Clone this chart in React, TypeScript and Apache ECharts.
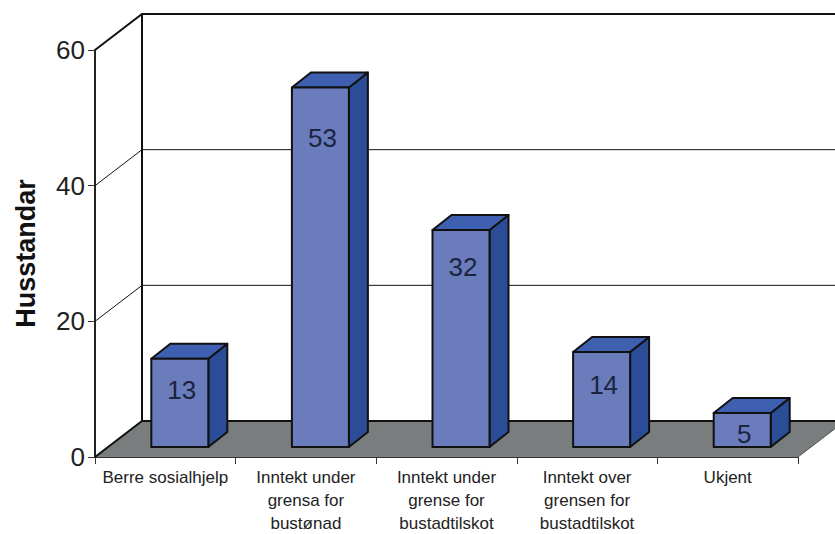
import React, { useEffect, useRef } from "react";
import * as echarts from "echarts";

const categories = [
  "Berre sosialhjelp",
  "Inntekt under\ngrensa for\nbustønad",
  "Inntekt under\ngrense for\nbustadtilskot",
  "Inntekt over\ngrensen for\nbustadtilskot",
  "Ukjent",
];
const households = [13, 53, 32, 14, 5];
const yTicks = [0, 20, 40, 60];
const axisTitle = "Husstandar";

const WIDTH = 835;
const HEIGHT = 534;
const DEPTH_X = 47;
const DEPTH_Y = 36;
const BAR_SHIFT_X = 14.5;
const BAR_SHIFT_Y = 10;
const BAR_WIDTH = 57;
const SIDE_X = 19;
const SIDE_Y = 15;
const LABEL_DROP = [31, 51, 37, 33, 21];
const INK = "#111";

function renderFrame(params: any, api: any) {
  const cs = params.coordSys;
  const x0 = cs.x;
  const x1 = cs.x + cs.width;
  const yBase = api.coord([0, 0])[1];
  const children: any[] = [
    {
      type: "polygon",
      shape: {
        points: [
          [x0, yBase],
          [x0 + DEPTH_X, yBase - DEPTH_Y],
          [x1 + DEPTH_X, yBase - DEPTH_Y],
          [x1, yBase],
        ],
      },
      style: { fill: "#7a7d7d", stroke: "none" },
    },
  ];
  yTicks.forEach((t) => {
    const y = api.coord([0, t])[1];
    const lw = t === 60 ? 2 : t === 0 ? 2 : 1;
    children.push({
      type: "polyline",
      shape: {
        points: [
          [x0, y],
          [x0 + DEPTH_X, y - DEPTH_Y],
          [x1 + DEPTH_X, y - DEPTH_Y],
        ],
      },
      style: { fill: "none", stroke: INK, lineWidth: lw },
    });
  });
  children.push({
    type: "line",
    shape: {
      x1: x0 + DEPTH_X,
      y1: api.coord([0, 60])[1] - DEPTH_Y,
      x2: x0 + DEPTH_X,
      y2: yBase - DEPTH_Y,
    },
    style: { stroke: INK, lineWidth: 2 },
  });
  children.push({
    type: "line",
    shape: { x1, y1: yBase, x2: x1 + DEPTH_X, y2: yBase - DEPTH_Y },
    style: { stroke: "#555", lineWidth: 1 },
  });
  return { type: "group", children };
}

function renderBar(_params: any, api: any) {
  const idx = api.value(0);
  const val = api.value(1);
  const centre = api.coord([idx, val])[0];
  const top = api.coord([idx, val])[1] - BAR_SHIFT_Y;
  const bottom = api.coord([idx, 0])[1] - BAR_SHIFT_Y;
  const l = centre + BAR_SHIFT_X - BAR_WIDTH / 2;
  const r = l + BAR_WIDTH;
  const edge = { stroke: INK, lineWidth: 2, lineJoin: "round" };
  return {
    type: "group",
    children: [
      {
        type: "polygon",
        shape: {
          points: [
            [r, top],
            [r + SIDE_X, top - SIDE_Y],
            [r + SIDE_X, bottom - SIDE_Y],
            [r, bottom],
          ],
        },
        style: { fill: "#2b4c96", ...edge },
      },
      {
        type: "polygon",
        shape: {
          points: [
            [l, top],
            [l + SIDE_X, top - SIDE_Y],
            [r + SIDE_X, top - SIDE_Y],
            [r, top],
          ],
        },
        style: { fill: "#3f60b0", ...edge },
      },
      {
        type: "rect",
        shape: { x: l, y: top, width: BAR_WIDTH, height: bottom - top },
        style: { fill: "#6a7cbc", ...edge },
      },
      {
        type: "text",
        style: {
          text: String(val),
          x: centre + BAR_SHIFT_X + 2,
          y: top + LABEL_DROP[idx],
          align: "center",
          verticalAlign: "middle",
          fontFamily: "Liberation Sans",
          fontSize: 26,
          fill: "#1b2440",
        },
      },
    ],
  };
}

export default function App() {
  const ref = useRef<HTMLDivElement>(null);
  useEffect(() => {
    const chart = echarts.init(ref.current!, null, { renderer: "svg" });
    chart.setOption({
      animation: false,
      backgroundColor: "#fff",
      tooltip: { show: false },
      grid: { left: 95, right: 37, top: 50, bottom: 77, outerBoundsMode: "none" },
      xAxis: {
        type: "category",
        data: categories,
        axisLine: { show: true, lineStyle: { color: "#333", width: 1 } },
        axisTick: { show: true, length: 7, lineStyle: { color: "#333" } },
        axisLabel: {
          interval: 0,
          margin: 9,
          fontFamily: "Liberation Sans",
          fontSize: 17,
          lineHeight: 23,
          color: "#222",
        },
      },
      yAxis: {
        type: "value",
        min: 0,
        max: 60,
        interval: 20,
        name: axisTitle,
        nameLocation: "middle",
        nameRotate: 90,
        nameGap: 56,
        nameTextStyle: {
          fontFamily: "Liberation Sans",
          fontWeight: "bold",
          fontSize: 27,
          color: "#111",
        },
        splitLine: { show: false },
        axisLine: { show: true, lineStyle: { color: "#222", width: 2 } },
        axisTick: { show: true, length: 7, lineStyle: { color: "#333" } },
        axisLabel: {
          margin: 10,
          fontFamily: "Liberation Sans",
          fontSize: 26,
          color: "#222",
          padding: [0, 0, 5, 0],
        },
      },
      series: [
        {
          type: "custom",
          silent: true,
          clip: false,
          z: 1,
          data: [[0, 0]],
          encode: { x: 0, y: 1 },
          renderItem: renderFrame,
        },
        {
          type: "custom",
          silent: true,
          clip: false,
          z: 2,
          data: households.map((v, i) => [i, v]),
          encode: { x: 0, y: 1 },
          renderItem: renderBar,
        },
      ],
    });
    return () => chart.dispose();
  }, []);
  return (
    <div
      ref={ref}
      style={{ position: "absolute", left: 0, top: 0, width: WIDTH, height: HEIGHT }}
    />
  );
}
